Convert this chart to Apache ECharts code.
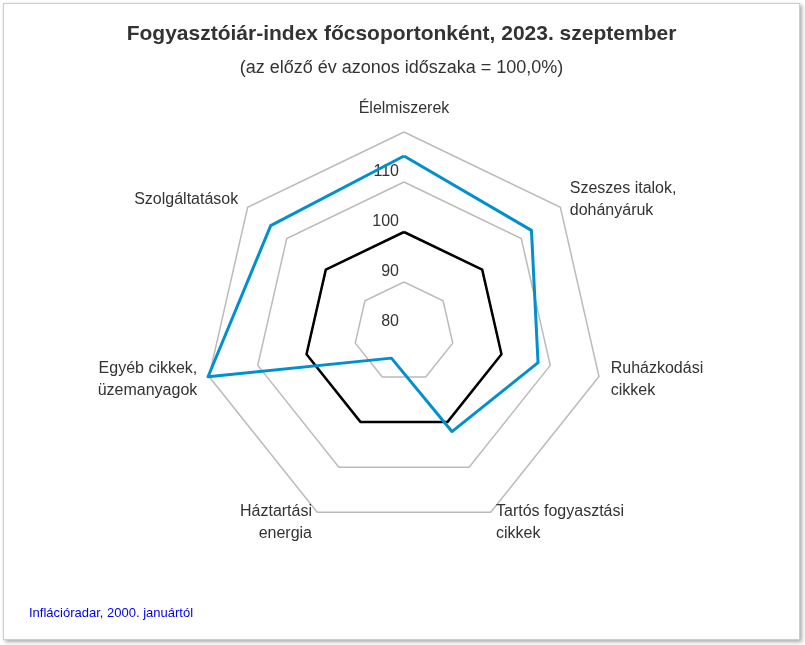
<!DOCTYPE html><html><head><meta charset="utf-8">
<script src="https://cdn.jsdelivr.net/npm/echarts@6/dist/echarts.min.js"></script>
<style>body{margin:0;background:#fff}#w{position:absolute;left:3px;top:3px;width:795px;height:635px;border:1px solid #ccc;box-shadow:2px 2px 4px #aaa;background:#fff}#c{width:795px;height:635px}</style></head><body>
<div id="w"><div id="c"></div></div>
<script>
const categories=["Élelmiszerek","Szeszes italok,\ndohányáruk","Ruházkodási\ncikkek","Tartós fogyasztási\ncikkek","Háztartási\nenergia","Egyéb cikkek,\nüzemanyagok","Szolgáltatások"];
const indexValues=[115.2,112.6,107.5,102.1,85.8,120.2,114.1];
const baseValues=[100,100,100,100,100,100,100];
const ticks=['80','90','100','110'];
const tickValues=[80,90,100,110];
// ECharts radar runs counter-clockwise; reorder (keeping first) so it reads clockwise
const ord=[0,6,5,4,3,2,1];
const c=echarts.init(document.getElementById('c'));
c.setOption({
 title:[{text:'Fogyasztóiár-index főcsoportonként, 2023. szeptember',left:'center',top:15,textStyle:{fontFamily:'Liberation Sans',fontSize:21,fontWeight:'bold',color:'#333'}},
  {text:'(az előző év azonos időszaka = 100,0%)',left:'center',top:50,textStyle:{fontFamily:'Liberation Sans',fontSize:18,fontWeight:'normal',color:'#333'}},
  {text:'Inflációradar, 2000. januártól',left:20,top:598,textStyle:{fontFamily:'Liberation Sans',fontSize:13,fontWeight:'normal',color:'#0000ee'}}],
 radar:{center:[400,328],radius:200,startAngle:90,splitNumber:4,shape:'polygon',
  indicator:ord.map(i=>({name:categories[i],min:80,max:120})),
  axisName:{color:'#333',fontFamily:'Liberation Sans',fontSize:16,lineHeight:22},
  nameGap:12,
  splitLine:{lineStyle:{color:'#bbb',width:1.5}},splitArea:{show:false},axisLine:{show:false},axisTick:{show:false},
  axisLabel:{show:false}},
 series:[{type:'radar',symbol:'none',data:[
  {value:ord.map(i=>baseValues[i]),lineStyle:{color:'#000',width:2.5}},
  {value:ord.map(i=>indexValues[i]),lineStyle:{color:'#0090d0',width:3}}]}]
});
const rc=c.getModel().getComponent('radar').coordinateSystem;
const g=tickValues.map((v,i)=>{const p=rc.dataToPoint(v,0);return{type:'text',x:p[0]-5,y:p[1]-2,style:{text:ticks[i],textAlign:'right',textVerticalAlign:'bottom',fill:'#333',font:'16px Liberation Sans'}};});
c.setOption({graphic:g});
</script></body></html>
